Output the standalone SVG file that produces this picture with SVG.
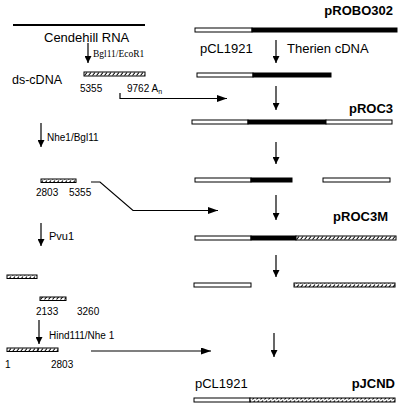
<svg xmlns="http://www.w3.org/2000/svg" width="400" height="408" viewBox="0 0 400 408">
<style>
text{font-family:"Liberation Sans",Arial,sans-serif;fill:#000}
.b{font-weight:bold;font-size:13px}
.l{font-size:13px}
.s{font-size:10px}
.ser{font-family:"Liberation Serif","Times New Roman",serif;font-size:9.5px}
.w{fill:#fff;stroke:#000;stroke-width:1}
.k{fill:#000;stroke:#000;stroke-width:1}
.h{fill:url(#hatch);stroke:#000;stroke-width:1}
.c{fill:none;stroke:#000;stroke-width:1.2}
</style>
<defs>
<pattern id="hatch" patternUnits="userSpaceOnUse" width="4" height="4">
<rect width="4" height="4" fill="#fff"/>
<line x1="0.5" y1="3.5" x2="3" y2="0.5" stroke="#000" stroke-width="1.1"/>
</pattern>
<marker id="ah" viewBox="0 0 10 10" refX="10" refY="5" markerWidth="7" markerHeight="7" markerUnits="userSpaceOnUse" orient="auto">
<path d="M0,0 L10,5 L0,10 z" fill="#000"/>
</marker>
<marker id="ahb" viewBox="0 0 10 10" refX="10" refY="5" markerWidth="10" markerHeight="7" markerUnits="userSpaceOnUse" orient="auto" preserveAspectRatio="none">
<path d="M0,0 L10,5 L0,10 z" fill="#000"/>
</marker>
</defs>

<g id="rna">
<line x1="13" y1="25" x2="145" y2="25" stroke="#000" stroke-width="2"/>
<text class="l" x="44" y="42">Cendehill RNA</text>
</g>
<g id="dscdna">
<text x="12" y="84" style="font-size:12.5px">ds-cDNA</text>
<rect class="h" x="84" y="72" width="61" height="4"/>
<text class="s" x="80" y="92">5355</text>
<text class="s" x="127" y="92">9762 A<tspan dy="2" style="font-size:7px">n</tspan></text>
</g>
<g id="frag2803">
<rect class="h" x="41" y="179" width="35" height="3.5"/>
<text class="s" x="36" y="196">2803</text>
<text class="s" x="69" y="196">5355</text>
</g>
<g id="frag_pvu_a">
<rect class="h" x="7" y="275" width="30" height="3.5"/>
</g>
<g id="frag_pvu_b">
<rect class="h" x="40" y="297" width="26" height="3.5"/>
<text class="s" x="36" y="315">2133</text>
<text class="s" x="77" y="315">3260</text>
</g>
<g id="frag1">
<rect class="h" x="7" y="348" width="51" height="3.5"/>
<line x1="38" y1="348" x2="38" y2="351.5" stroke="#000" stroke-width="1"/>
<text class="s" x="5" y="368">1</text>
<text class="s" x="51" y="368">2803</text>
</g>

<g id="pROBO302">
<text class="b" x="393" y="15" text-anchor="end">pROBO302</text>
<rect class="w" x="195" y="28" width="57" height="4"/>
<rect class="k" x="252" y="28" width="145" height="4"/>
<text class="l" x="200" y="53">pCL1921</text>
<text class="l" x="287" y="53">Therien cDNA</text>
</g>
<g id="cut1">
<rect class="w" x="197" y="73" width="56" height="4"/>
<rect class="k" x="253" y="73" width="78" height="4"/>
</g>
<g id="pROC3">
<text class="b" x="393" y="113" text-anchor="end">pROC3</text>
<rect class="w" x="192" y="120" width="56" height="4"/>
<rect class="k" x="248" y="120" width="78" height="4"/>
<rect class="w" x="326" y="120" width="66" height="4"/>
</g>
<g id="cut2">
<rect class="w" x="195" y="178" width="56" height="4"/>
<rect class="k" x="251" y="178" width="41" height="4"/>
<rect class="w" x="323" y="178" width="67" height="4"/>
</g>
<g id="pROC3M">
<text class="b" x="388" y="221" text-anchor="end">pROC3M</text>
<rect class="w" x="195" y="236" width="56" height="4"/>
<rect class="k" x="251" y="236" width="45" height="4"/>
<rect class="h" x="296" y="236" width="100" height="4"/>
</g>
<g id="cut3">
<rect class="w" x="194" y="283" width="57" height="4"/>
<rect class="h" x="294" y="283" width="101" height="4"/>
</g>
<g id="pJCND">
<text class="l" x="195" y="388">pCL1921</text>
<text class="b" x="395" y="388" text-anchor="end">pJCND</text>
<rect class="w" x="194" y="398" width="56" height="4"/>
<rect class="h" x="250" y="398" width="145" height="4"/>
</g>

<g id="connectors">
<line class="c" x1="88" y1="43" x2="88" y2="63" marker-end="url(#ah)"/>
<text class="ser" x="93" y="57">Bgl11/EcoR1</text>
<line class="c" x1="41" y1="123" x2="41" y2="147" marker-end="url(#ah)"/>
<text class="s" x="47" y="141">Nhe1/Bgl11</text>
<line class="c" x1="41" y1="223" x2="41" y2="246" marker-end="url(#ah)"/>
<text class="s" x="49" y="240" style="font-size:11px">Pvu1</text>
<line class="c" x1="39" y1="320" x2="39" y2="344" marker-end="url(#ah)"/>
<text class="s" x="49" y="339">Hind111/Nhe 1</text>

<line class="c" x1="276" y1="40" x2="276" y2="63" marker-end="url(#ah)"/>
<line class="c" x1="276" y1="86" x2="276" y2="110" marker-end="url(#ah)"/>
<line class="c" x1="276" y1="142" x2="276" y2="164" marker-end="url(#ah)"/>
<line class="c" x1="276" y1="195" x2="276" y2="220" marker-end="url(#ah)"/>
<line class="c" x1="276" y1="255" x2="276" y2="277" marker-end="url(#ah)"/>
<line class="c" x1="274" y1="333" x2="274" y2="357" marker-end="url(#ah)"/>

<path class="c" d="M120,93 V98.5 H227" marker-end="url(#ahb)"/>
<path class="c" d="M91,182 H100 L133,210.5 H218" marker-end="url(#ahb)"/>
<path class="c" d="M91,351 H211" marker-end="url(#ahb)"/>
</g>
</svg>
